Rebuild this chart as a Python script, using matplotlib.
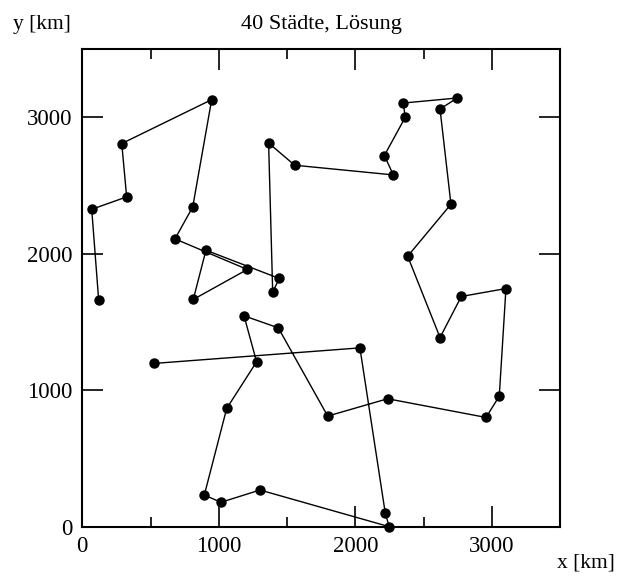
import matplotlib.pyplot as plt
import numpy as np

plt.rcParams['font.family'] = ['Liberation Serif', 'DejaVu Serif']

# Staedte in Reihenfolge der Tour (x, y in km)
x = [120, 69, 325, 289, 948, 809, 679, 1209, 813, 906,
     1443, 1395, 1365, 1556, 2279, 2213, 2366, 2352, 2747, 2621,
     2701, 2384, 2621, 2777, 3104, 3055, 2958, 2237, 1798, 1436,
     1185, 1277, 1058, 894, 1016, 1302, 2249, 2220, 2034, 525]
y = [1661, 2327, 2418, 2809, 3131, 2344, 2110, 1886, 1666, 2027,
     1820, 1719, 2813, 2650, 2579, 2721, 3001, 3106, 3143, 3062,
     2364, 1983, 1387, 1688, 1746, 957, 801, 938, 811, 1458,
     1546, 1209, 867, 232, 179, 269, 0, 98, 1311, 1197]

fig = plt.figure(figsize=(6.17, 5.76), dpi=100)
ax = fig.add_axes([82.3/617, 1-526.7/576, (560-82.3)/617, (526.7-49.3)/576])

ax.plot(x, y, '-', color='black', lw=1.0, marker='o', ms=6.5, mfc='black', mec='black', clip_on=False)

ax.set_xlim(0, 3500)
ax.set_ylim(0, 3500)
ax.set_xticks([0, 1000, 2000, 3000])
ax.set_xticks([500, 1500, 2500, 3500], minor=True)
ax.set_yticks([0, 1000, 2000, 3000])
ax.tick_params(which='major', direction='in', length=15, width=1.2, top=True, right=True,
               labelsize=16.5, pad=7)
ax.tick_params(which='minor', direction='in', length=7, width=1.2, top=True, right=False, left=False)
for s in ax.spines.values():
    s.set_linewidth(1.5)

fig.text(321/617, 1-25/576, "40 Städte, Lösung", ha='center', va='center', fontsize=16)
fig.text(42/617, 1-25/576, "y [km]", ha='center', va='center', fontsize=15.5)
fig.text(586/617, 1-563/576, "x [km]", ha='center', va='center', fontsize=15.5)

fig.savefig('out.png', dpi=100)
